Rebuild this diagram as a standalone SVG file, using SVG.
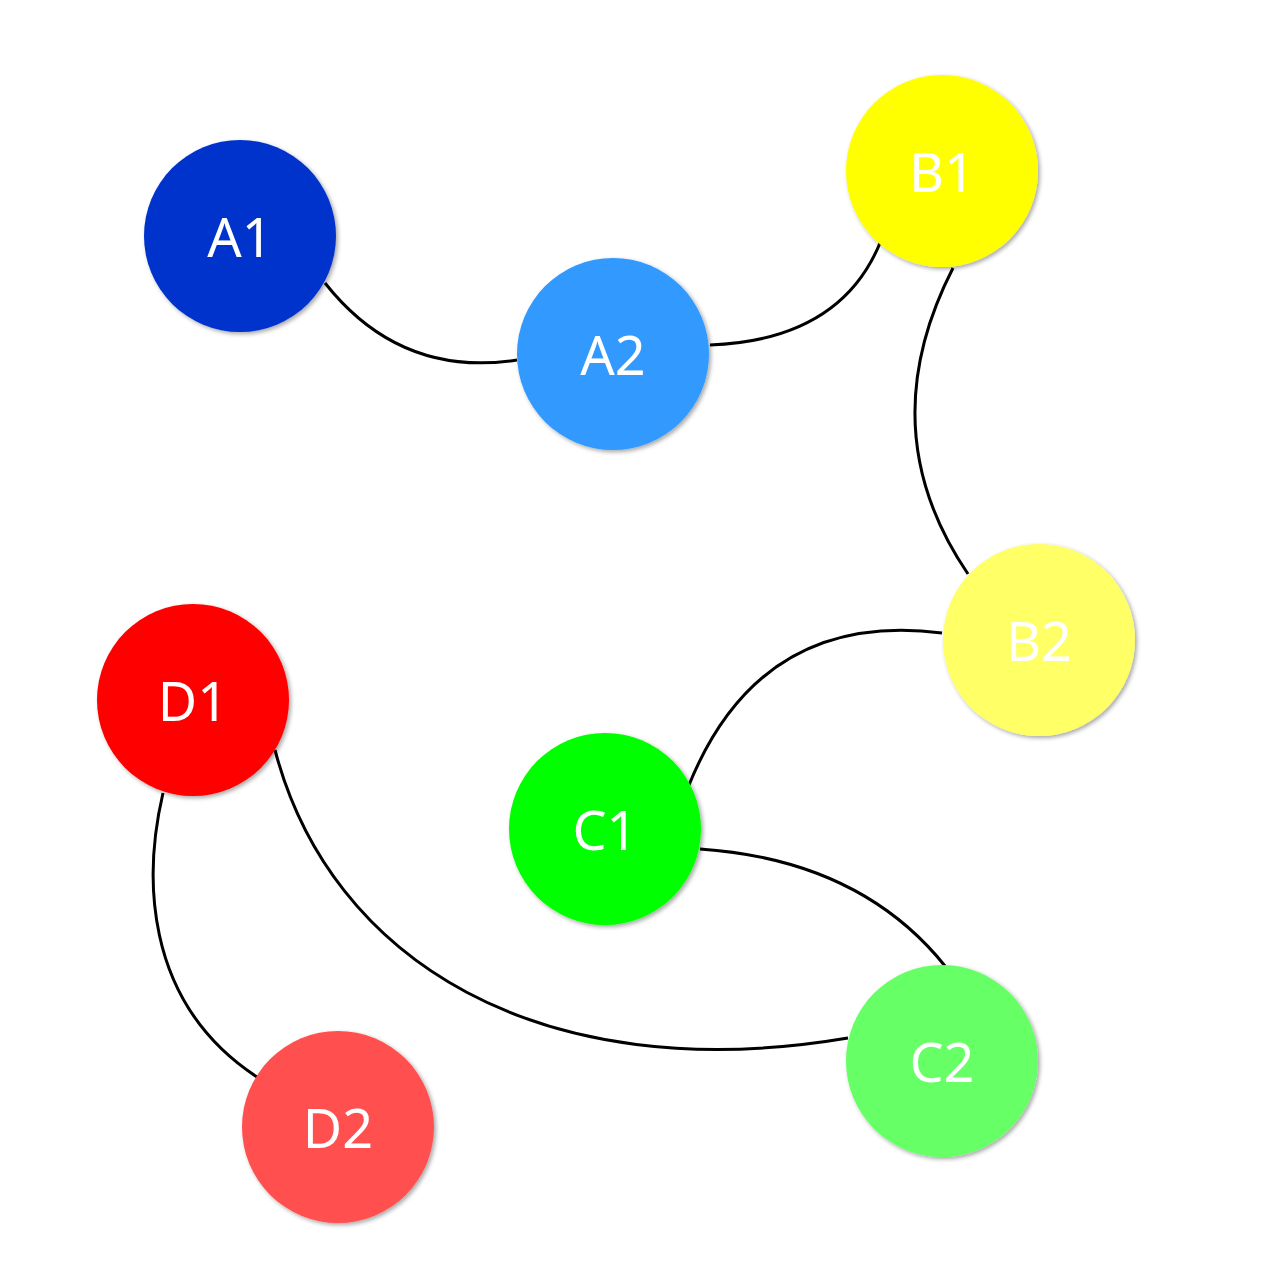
<svg xmlns="http://www.w3.org/2000/svg" width="1280" height="1280" viewBox="0 0 1280 1280">
<defs>
<filter id="sh" x="-20%" y="-20%" width="140%" height="140%">
<feDropShadow dx="2" dy="2" stdDeviation="2" flood-color="#000" flood-opacity="0.35"/>
</filter>
<style>
.edge{fill:none;stroke:#000;stroke-width:3}
.node circle{filter:url(#sh)}
.node text{font-family:"Noto Sans","Open Sans",sans-serif;font-size:54px;fill:#fff;text-anchor:middle;dominant-baseline:central}
</style>
</defs>
<rect width="1280" height="1280" fill="#fff"/>
<g id="connectors">
<path class="edge" d="M325,283 Q400,378 517,360"/>
<path class="edge" d="M710,345 Q840,340 880,243"/>
<path class="edge" d="M953,268 Q870,430 968,574"/>
<path class="edge" d="M942,633 Q760,610 689,785"/>
<path class="edge" d="M700,849 Q860,860 945,966"/>
<path class="edge" d="M275,750 C330,960 540,1090 848,1038"/>
<path class="edge" d="M163,793 C145,870 140,1000 257,1077"/>
</g>
<g id="A1" class="node"><circle cx="240" cy="236" r="96" fill="#0033CC"/><text x="240" y="236">A1</text></g>
<g id="A2" class="node"><circle cx="613" cy="354" r="96" fill="#3399FF"/><text x="613" y="354">A2</text></g>
<g id="B1" class="node"><circle cx="942" cy="171" r="96" fill="#FFFF00"/><text x="942" y="171">B1</text></g>
<g id="B2" class="node"><circle cx="1039" cy="640" r="96" fill="#FFFF66"/><text x="1039" y="640">B2</text></g>
<g id="C1" class="node"><circle cx="605" cy="829" r="96" fill="#00FF00"/><text x="605" y="829">C1</text></g>
<g id="C2" class="node"><circle cx="942" cy="1061" r="96" fill="#66FF66"/><text x="942" y="1061">C2</text></g>
<g id="D1" class="node"><circle cx="193" cy="700" r="96" fill="#FF0000"/><text x="193" y="700">D1</text></g>
<g id="D2" class="node"><circle cx="338" cy="1127" r="96" fill="#FF5050"/><text x="338" y="1127">D2</text></g>
</svg>
